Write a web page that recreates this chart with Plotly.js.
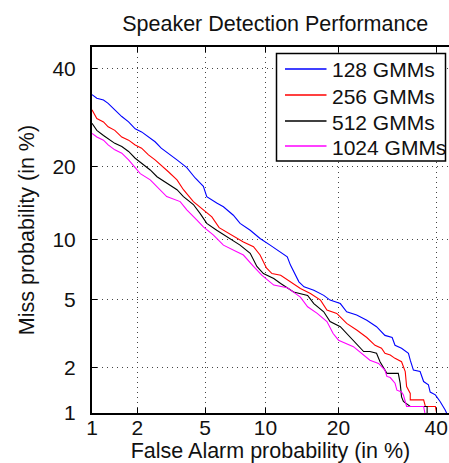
<!DOCTYPE html>
<html>
<head>
<meta charset="utf-8">
<script src="https://cdn.plot.ly/plotly-3.0.1.min.js"></script>
<style>html,body{margin:0;padding:0;background:#fff;overflow:hidden}</style>
</head>
<body>
<div id="chart" style="width:449px;height:463px"></div>
<script>
// False alarm / miss probabilities in percent
const seriesNames = ["128 GMMs", "256 GMMs", "512 GMMs", "1024 GMMs"];
const seriesColors = ["#0000ff", "#ff0000", "#000000", "#ff00ff"];

const fa128 = [1.00,1.08,1.20,1.29,1.43,1.59,1.76,1.94,2.13,2.35,2.58,2.81,3.09,3.48,3.96,4.41,4.89,5.10,5.76,6.24,7.01,7.57,8.48,9.44,10.5,11.7,12.5,12.9,13.5,14.0,14.7,16.1,17.6,18.6,20.3,21.4,23.2,25.1,27.0,27.7,28.7,30.2,30.8,32.2,33.7,34.1,34.8,36.3,37.1,38.2,38.6,39.8,40.9,42.1,42.9];
const miss128 = [34.1,33.3,32.9,32.2,30.8,29.4,28.3,26.9,26.3,25.3,24.4,23.2,22.3,21.1,19.8,18.1,16.8,15.3,14.4,13.9,12.8,11.8,11.0,10.1,9.41,8.76,8.29,7.55,6.85,6.22,5.86,5.62,5.28,4.98,4.77,4.30,4.12,3.85,3.54,3.39,3.15,3.06,2.75,2.64,2.46,2.23,1.93,1.89,1.63,1.55,1.39,1.33,1.20,1.05,0.93];

const fa256 = [1.00,1.08,1.20,1.29,1.43,1.59,1.76,1.94,2.13,2.35,2.58,2.81,3.10,3.48,3.79,4.31,4.89,5.43,5.93,6.37,7.01,7.86,8.79,9.44,10.1,10.7,11.7,12.9,14.2,15.6,17.1,18.1,19.7,21.4,23.2,25.1,25.7,26.7,28.0,28.7,29.8,30.8,32.2,33.0,33.3,34.1,34.1,37.1,37.5,39.8,40.2];
const miss256 = [30.8,29.0,28.3,27.3,26.6,25.3,24.7,23.8,23.2,22.0,21.1,20.2,19.1,17.8,16.3,14.6,13.5,12.6,11.3,10.9,10.3,9.74,9.25,8.45,7.31,6.85,6.72,6.22,5.74,5.40,4.98,4.40,4.21,3.70,3.39,3.06,2.95,2.75,2.64,2.46,2.40,2.29,2.18,1.89,1.51,1.36,1.23,1.23,1.11,1.11,0.96];

const fa512 = [1.00,1.08,1.20,1.29,1.43,1.59,1.76,1.94,2.13,2.41,2.65,3.03,3.48,3.79,4.31,4.70,5.10,5.76,6.75,7.57,8.48,9.12,9.78,10.9,11.7,13.3,15.2,16.1,17.6,18.6,20.3,21.4,22.6,24.5,25.7,27.0,27.7,29.1,31.5,31.9,32.2,32.6,34.1,37.9,37.9];
const miss512 = [28.0,26.6,25.6,25.0,24.1,23.5,22.6,21.4,20.5,19.4,18.3,17.3,16.3,15.3,14.2,13.0,11.8,11.0,10.1,9.41,8.61,7.44,6.85,6.47,6.10,5.50,5.28,4.77,4.30,3.79,3.54,3.23,2.95,2.52,2.52,2.46,2.18,1.84,1.84,1.59,1.29,1.20,1.11,1.11,0.96];

const fa1024 = [1.00,1.08,1.20,1.29,1.43,1.59,1.76,1.89,2.09,2.41,2.77,3.03,3.63,3.96,4.51,4.89,5.52,6.24,7.29,7.86,8.79,9.61,10.9,12.5,14.2,15.2,16.6,18.1,19.1,20.0,22.6,25.7,27.4,28.7,29.1,29.8,30.8,31.2,32.2,32.6,33.0,33.3,37.1,37.5];
const miss1024 = [26.0,25.3,24.7,23.8,22.9,22.3,21.1,20.2,18.8,17.8,16.3,15.3,14.6,13.5,12.2,11.4,10.5,9.41,8.76,8.45,7.44,6.72,5.98,5.80,5.17,4.58,4.21,3.79,3.23,2.95,2.70,2.23,2.13,1.93,1.76,1.73,1.59,1.43,1.39,1.33,1.20,1.11,1.11,0.96];

const tickPercents = [1, 2, 5, 10, 20, 40];
const tickLabels = ["1", "2", "5", "10", "20", "40"];
const xLimits = [1, 43];
const yLimits = [1, 45.1];

// inverse standard normal CDF (Acklam) -> normal deviate scale of a DET plot
function probit(p) {
  const a = [-3.969683028665376e+01, 2.209460984245205e+02, -2.759285104469687e+02, 1.383577518672690e+02, -3.066479806614716e+01, 2.506628277459239e+00];
  const b = [-5.447609879822406e+01, 1.615858368580409e+02, -1.556989798598866e+02, 6.680131188771972e+01, -1.328068155288572e+01];
  const c = [-7.784894002430293e-03, -3.223964580411365e-01, -2.400758277161838e+00, -2.549732539343734e+00, 4.374664141464968e+00, 2.938163982698783e+00];
  const d = [7.784695709041462e-03, 3.224671290700398e-01, 2.445134137142996e+00, 3.754408661907416e+00];
  const plow = 0.02425, phigh = 1 - plow;
  let q, r;
  if (p < plow) {
    q = Math.sqrt(-2 * Math.log(p));
    return (((((c[0]*q+c[1])*q+c[2])*q+c[3])*q+c[4])*q+c[5]) / ((((d[0]*q+d[1])*q+d[2])*q+d[3])*q+1);
  } else if (p <= phigh) {
    q = p - 0.5; r = q*q;
    return (((((a[0]*r+a[1])*r+a[2])*r+a[3])*r+a[4])*r+a[5])*q / (((((b[0]*r+b[1])*r+b[2])*r+b[3])*r+b[4])*r+1);
  } else {
    q = Math.sqrt(-2 * Math.log(1 - p));
    return -(((((c[0]*q+c[1])*q+c[2])*q+c[3])*q+c[4])*q+c[5]) / ((((d[0]*q+d[1])*q+d[2])*q+d[3])*q+1);
  }
}
const dev = arr => arr.map(v => probit(v / 100));

const xs = [fa128, fa256, fa512, fa1024];
const ys = [miss128, miss256, miss512, miss1024];

const traces = seriesNames.map((name, i) => ({
  type: "scatter",
  mode: "lines",
  name: name,
  x: dev(xs[i]),
  y: dev(ys[i]),
  customdata: xs[i].map((v, k) => [v, ys[i][k]]),
  hovertemplate: "FA %{customdata[0]}%<br>Miss %{customdata[1]}%<extra>" + name + "</extra>",
  line: { color: seriesColors[i], width: 1.1 }
}));

const FONT = "Liberation Sans, Arial, Helvetica, sans-serif";
const W = 449, H = 463;
const M = { l: 92, r: 0, t: 47, b: 50 };
const plotW = W - M.l - M.r, plotH = H - M.t - M.b;
const px2x = px => (px - M.l) / plotW;
const px2y = py => (H - M.b - py) / plotH;

// boxed legend drawn in the upper right corner of the axes
const legBox = { x0: 276.5, x1: 445.5, y0: 53.5, y1: 161 };
const legRowY = [69, 95, 121, 146];
const shapes = [{
  type: "rect", xref: "paper", yref: "paper",
  x0: px2x(legBox.x0), x1: px2x(legBox.x1), y0: px2y(legBox.y1), y1: px2y(legBox.y0),
  line: { color: "#000", width: 1.5 }, fillcolor: "#fff", layer: "above"
}];
const annotations = [];
seriesNames.forEach((name, i) => {
  shapes.push({
    type: "line", xref: "paper", yref: "paper",
    x0: px2x(285), x1: px2x(326.5), y0: px2y(legRowY[i]), y1: px2y(legRowY[i]),
    line: { color: seriesColors[i], width: 1.3 }, layer: "above"
  });
  annotations.push({
    xref: "paper", yref: "paper", x: px2x(330), y: px2y(legRowY[i] + 1),
    xanchor: "left", yanchor: "middle", showarrow: false, text: name,
    font: { family: FONT, size: 21, color: "#111" }
  });
});

const axisCommon = {
  tickmode: "array",
  tickvals: dev(tickPercents),
  ticktext: tickLabels,
  ticks: "inside",
  ticklen: 5,
  tickwidth: 1,
  tickcolor: "#000",
  showline: true,
  linecolor: "#000",
  linewidth: 2,
  showgrid: true,
  gridcolor: "#444",
  griddash: "1px,4px",
  gridwidth: 1,
  zeroline: false,
  tickfont: { family: FONT, size: 21, color: "#111" }
};

const layout = {
  width: W,
  height: H,
  margin: M,
  paper_bgcolor: "#fff",
  plot_bgcolor: "#fff",
  font: { family: FONT, size: 21, color: "#111" },
  title: {
    text: "Speaker Detection Performance",
    font: { family: FONT, size: 21.5, color: "#111" },
    x: 0.513, xref: "paper", xanchor: "center",
    y: 0.95, yref: "container", yanchor: "middle"
  },
  xaxis: Object.assign({}, axisCommon, {
    range: dev(xLimits),
    mirror: "ticks",
    ticklabelstandoff: -5,
    title: { text: "False Alarm probability (in %)", font: { family: FONT, size: 21.5, color: "#111" }, standoff: 6 }
  }),
  yaxis: Object.assign({}, axisCommon, {
    range: dev(yLimits),
    mirror: false,
    ticklabelstandoff: 10,
    title: { text: "Miss probability (in %)", font: { family: FONT, size: 21.5, color: "#111" }, standoff: 12 }
  }),
  showlegend: false,
  shapes: shapes,
  annotations: annotations
};

Plotly.newPlot("chart", traces, layout, { displayModeBar: false });
</script>
</body>
</html>
